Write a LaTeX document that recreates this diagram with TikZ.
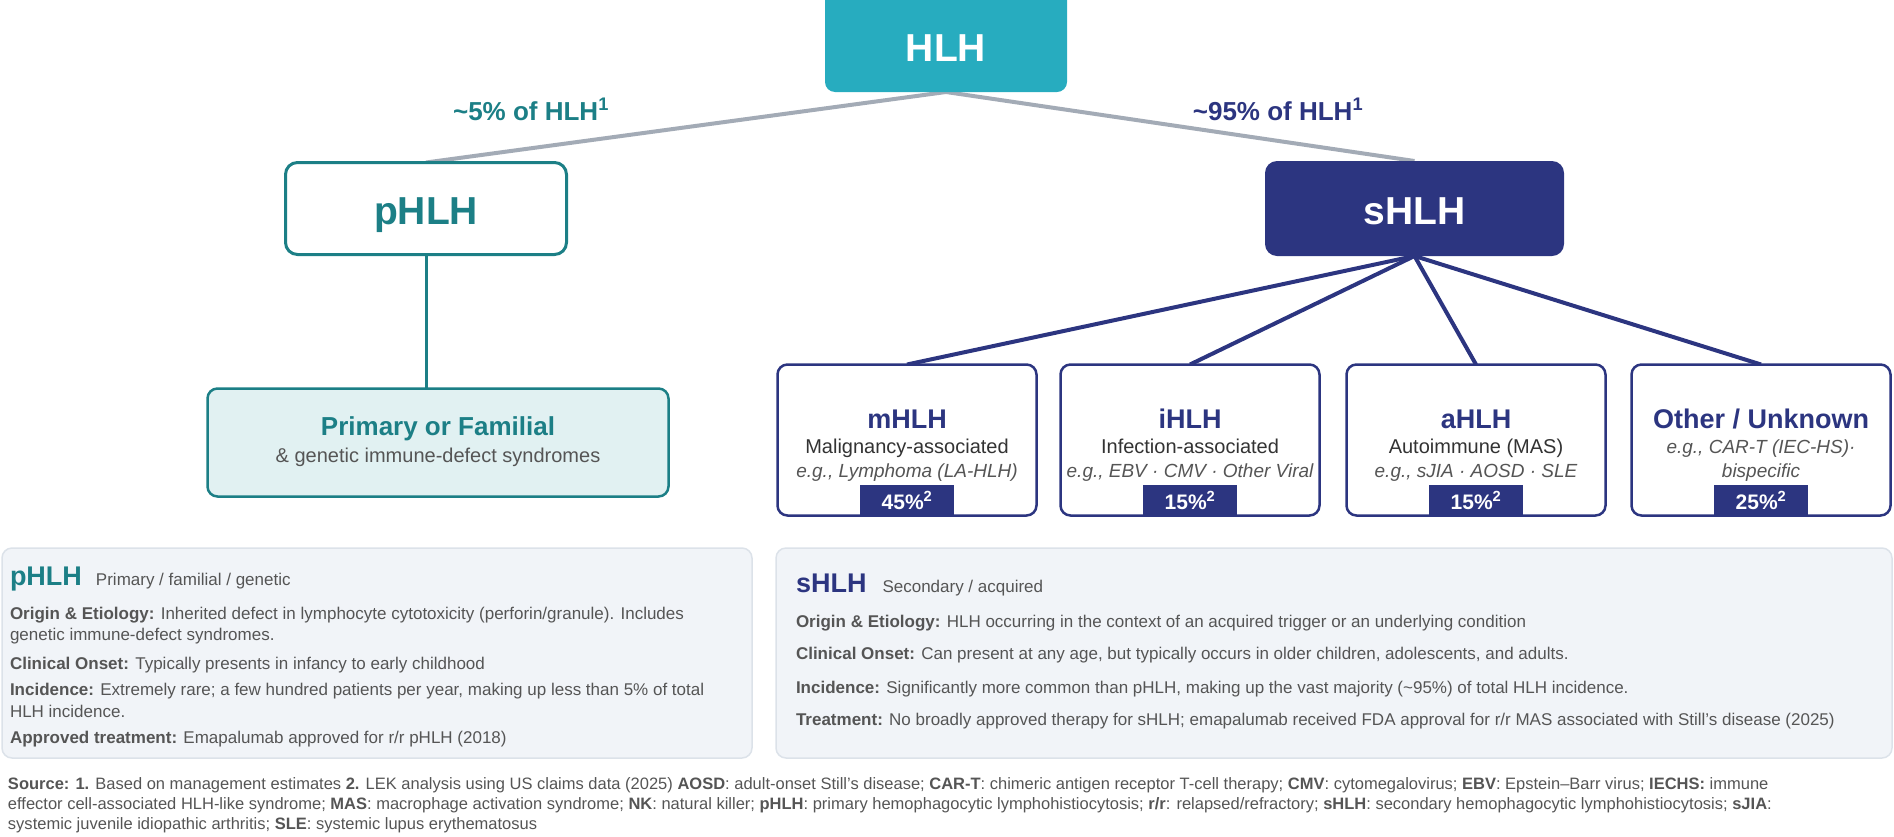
\documentclass[tikz,border=0pt]{standalone}
\usepackage{fontspec}
\setmainfont{Liberation Sans}
\usetikzlibrary{positioning}
\pgfdeclarelayer{bg}
\pgfsetlayers{bg,main}
\definecolor{hlhteal}{HTML}{27ACBF}
\definecolor{pteal}{HTML}{1C7F86}
\definecolor{snavy}{HTML}{2C3580}
\definecolor{linegray}{HTML}{A3ABB6}
\definecolor{primfill}{HTML}{E1F1F2}
\definecolor{panelfill}{HTML}{F1F4F8}
\definecolor{panelline}{HTML}{DCE2E9}
\definecolor{bodygray}{HTML}{555555}
\newcommand{\fsz}[1]{\fontsize{#1}{#1}\selectfont}
\tikzset{
    every node/.style={inner sep=0pt, outer sep=0pt},
    hlhbox/.style={rectangle, rounded corners=10pt, fill=hlhteal, text=white,
        minimum width=242pt, minimum height=102pt, font=\fsz{40}\bfseries},
    phlhbox/.style={rectangle, rounded corners=12pt, draw=pteal, line width=3pt,
        fill=white, minimum width=281pt, minimum height=92pt},
    shlhbox/.style={rectangle, rounded corners=12pt, fill=snavy,
        minimum width=299pt, minimum height=95pt},
    primbox/.style={rectangle, rounded corners=10pt, draw=pteal, line width=2.5pt,
        fill=primfill, minimum width=461pt, minimum height=108pt},
    subbox/.style={rectangle, rounded corners=10pt, draw=snavy, line width=2.5pt,
        fill=white, minimum width=259pt, minimum height=151pt},
    bigname/.style={anchor=base, font=\fsz{39}\bfseries},
    subname/.style={anchor=base, text=snavy, font=\fsz{27}\bfseries},
    subtext/.style={anchor=base, text=black!80, font=\fsz{20}},
    subeg/.style={anchor=base, text=bodygray, font=\fsz{19}\itshape},
    badge/.style={fill=snavy, minimum width=94pt, minimum height=32pt},
    badgetext/.style={anchor=base, text=white, font=\fsz{21}\bfseries},
    share/.style={anchor=base, font=\fsz{26}\bfseries},
    panel/.style={rectangle, rounded corners=10pt, draw=panelline, line width=1.5pt,
        fill=panelfill},
    body/.style={anchor=base west, text=bodygray, font=\fsz{17}},
    note/.style={anchor=base west, text=bodygray, font=\fsz{16.5}},
    link/.style={line width=4pt},
}

\begin{document}
\begin{tikzpicture}[x=1pt, y=-1pt]
    \useasboundingbox (0,0) rectangle (1894,836);
    % top of the tree
    \node [hlhbox] (hlh) at (946,41) {};
    \node [bigname, text=white] (hlht) at (946,61) {HLH};
    \node [share, text=pteal] (l5) at (531,120) {\textasciitilde5\% of HLH\textsuperscript{1}};
    \node [share, text=snavy] (l95) at (1278,120) {\textasciitilde95\% of HLH\textsuperscript{1}};
    \node [phlhbox] (phlh) at (426,208.5) {};
    \node [bigname, text=pteal] (phlht) at (426,224) {pHLH};
    \node [shlhbox] (shlh) at (1414.5,208.5) {};
    \node [bigname, text=white] (shlht) at (1414.5,224) {sHLH};
    % primary branch
    \node [primbox] (prim) at (438,442.5) {};
    \node [anchor=base, text=pteal, font=\fsz{26}\bfseries] (primt) at (438,435) {Primary or Familial};
    \node [subtext, text=bodygray] (prims) at (438,462) {\& genetic immune-defect syndromes};
    % secondary subtypes
    \node [subbox] (m) at (907,440) {};
    \node [subbox] (i) at (1190,440) {};
    \node [subbox] (a) at (1476,440) {};
    \node [subbox] (o) at (1761,440) {};
    \node [subname] (mt) at (907,428) {mHLH};
    \node [subname] (it) at (1190,428) {iHLH};
    \node [subname] (at) at (1476,428) {aHLH};
    \node [subname] (ot) at (1761,428) {Other / Unknown};
    \node [subtext] (ms) at (907,453) {Malignancy-associated};
    \node [subtext] (is) at (1190,453) {Infection-associated};
    \node [subtext] (as) at (1476,453) {Autoimmune (MAS)};
    \node [subeg] (me) at (907,477) {e.g., Lymphoma (LA-HLH)};
    \node [subeg] (ie) at (1190,477) {e.g., EBV · CMV · Other Viral};
    \node [subeg] (ae) at (1476,477) {e.g., sJIA · AOSD · SLE};
    \node [subeg] (oe) at (1761,453) {e.g., CAR-T (IEC-HS)·};
    \node [subeg] (oe2) at (1761,477) {bispecific};
    \node [badge] (mb) at (907,501) {};
    \node [badge] (ib) at (1190,501) {};
    \node [badge] (ab) at (1476,501) {};
    \node [badge] (ob) at (1761,501) {};
    \node [badgetext] (mbt) at (907,509) {45\%\textsuperscript{2}};
    \node [badgetext] (ibt) at (1190,509) {15\%\textsuperscript{2}};
    \node [badgetext] (abt) at (1476,509) {15\%\textsuperscript{2}};
    \node [badgetext] (obt) at (1761,509) {25\%\textsuperscript{2}};
    % connectors
    \begin{pgfonlayer}{bg}
        \draw [link, linegray] (hlh.south) -- (phlh.north);
        \draw [link, linegray] (hlh.south) -- (shlh.north);
        \draw [link, pteal, line width=3pt] (phlh.south) -- (phlh.south |- prim.north);
        \draw [link, snavy] (shlh.south) -- (m.north);
        \draw [link, snavy] (shlh.south) -- (i.north);
        \draw [link, snavy] (shlh.south) -- (a.north);
        \draw [link, snavy] (shlh.south) -- (o.north);
    \end{pgfonlayer}
    % detail panels
    \node [panel, minimum width=750pt, minimum height=210pt] (lp) at (377,653) {};
    \node [panel, minimum width=1116pt, minimum height=210pt] (rp) at (1334,653) {};
    \node [body] (lp0) at (10,585) {{\fsz{27}\bfseries\textcolor{pteal}{pHLH}}\hspace{14pt}Primary / familial / genetic};
    \node [body] (lp1) at (10,619) {\textbf{Origin \& Etiology:} Inherited defect in lymphocyte cytotoxicity (perforin/granule). Includes};
    \node [body] (lp2) at (10,640) {genetic immune-defect syndromes.};
    \node [body] (lp3) at (10,669) {\textbf{Clinical Onset:} Typically presents in infancy to early childhood};
    \node [body] (lp4) at (10,695) {\textbf{Incidence:} Extremely rare; a few hundred patients per year, making up less than 5\% of total};
    \node [body] (lp5) at (10,717) {HLH incidence.};
    \node [body] (lp6) at (10,743) {\textbf{Approved treatment:} Emapalumab approved for r/r pHLH (2018)};
    \node [body] (rp0) at (796,592) {{\fsz{27}\bfseries\textcolor{snavy}{sHLH}}\hspace{16pt}Secondary / acquired};
    \node [body] (rp1) at (796,627) {\textbf{Origin \& Etiology:} HLH occurring in the context of an acquired trigger or an underlying condition};
    \node [body] (rp2) at (796,659) {\textbf{Clinical Onset:} Can present at any age, but typically occurs in older children, adolescents, and adults.};
    \node [body] (rp3) at (796,693) {\textbf{Incidence:} Significantly more common than pHLH, making up the vast majority (\textasciitilde95\%) of total HLH incidence.};
    \node [body] (rp4) at (796,725) {\textbf{Treatment:} No broadly approved therapy for sHLH; emapalumab received FDA approval for r/r MAS associated with Still's disease (2025)};
    % sources
    \node [note] (s1) at (8,789) {\textbf{Source: 1.} Based on management estimates \textbf{2.} LEK analysis using US claims data (2025) \textbf{AOSD}: adult-onset Still's disease; \textbf{CAR-T}: chimeric antigen receptor T-cell therapy; \textbf{CMV}: cytomegalovirus; \textbf{EBV}: Epstein--Barr virus; \textbf{IECHS:} immune};
    \node [note] (s2) at (8,809) {effector cell-associated HLH-like syndrome; \textbf{MAS}: macrophage activation syndrome; \textbf{NK}: natural killer; \textbf{pHLH}: primary hemophagocytic lymphohistiocytosis; \textbf{r/r}: relapsed/refractory; \textbf{sHLH}: secondary hemophagocytic lymphohistiocytosis; \textbf{sJIA}:};
    \node [note] (s3) at (8,829) {systemic juvenile idiopathic arthritis; \textbf{SLE}: systemic lupus erythematosus};
\end{tikzpicture}
\end{document}
